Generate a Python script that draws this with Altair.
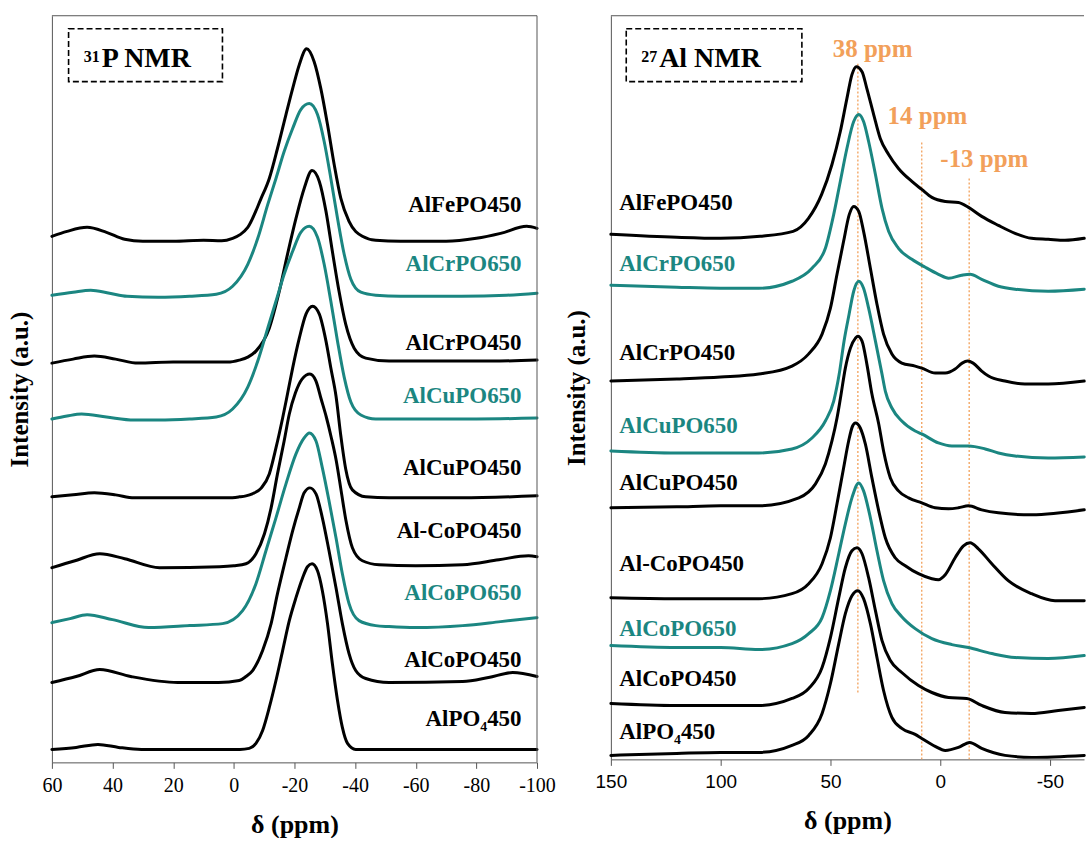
import altair as alt
import pandas as pd

# ---------------- 31P NMR (left panel) : chemical shift (ppm) / intensity (a.u.) ----------------
P_NAMES = ["AlFePO450", "AlCrPO650", "AlCrPO450", "AlCuPO650", "AlCuPO450",
           "Al-CoPO450", "AlCoPO650", "AlCoPO450", "AlPO4450"]
P_LABELS = ["AlFePO450", "AlCrPO650", "AlCrPO450", "AlCuPO650", "AlCuPO450",
            "Al-CoPO450", "AlCoPO650", "AlCoPO450", "AlPO\u2084450"]
P_LABEL_INT = [558, 499, 420, 367, 295, 232, 170, 103, 43]

P_FE450_PPM = [60, 55, 48.4, 42, 36, 30, 20, 10, 4, 0.4, -2.2, -4.6, -9.0, -11.7, -14.4, -17.2, -19.4, -21.6, -24.0,
               -26.5, -28.7, -30.9, -33.1, -35.3, -38.0, -42.4, -46.8, -55, -70, -80, -88, -96.6, -100]
P_FE450_INT = [527, 532, 536, 531, 524, 522, 522, 523, 522.5, 525, 529, 536, 565, 585, 615, 649, 675, 699, 715,
               702, 675, 639, 599, 565, 542, 527, 523, 522, 522, 525, 530, 537, 535]

P_CR650_PPM = [60, 53, 47.2, 41, 35.2, 25, 14.6, 5.8, 0.4, -4.6, -7.9, -11.2, -13.9, -16.6, -19.4, -22.1, -24.9,
               -27.6, -29.8, -32.0, -34.2, -36.4, -38.6, -41.9, -46.8, -55, -75, -90, -100]
P_CR650_INT = [468, 471, 473, 470, 467, 466, 467, 469, 477, 499, 525, 559, 585, 612, 635, 654, 660,
               649, 622, 585, 545, 509, 484, 471, 468, 467, 467, 468, 470]

P_CR450_PPM = [60, 53, 46.0, 39, 31.6, 20, 10, 2, -1.8, -4.6, -7.3, -11.7, -15.0, -17.7, -20.5, -23.2, -25.8,
               -28.2, -30.4, -32.5, -34.7, -36.9, -39.7, -43.5, -51.2, -70, -85, -100]
P_CR450_INT = [400, 404, 407, 404, 400, 401, 401, 401, 403, 406, 412, 435, 472, 509, 545, 575, 593,
               582, 552, 512, 472, 439, 415, 405, 402, 402, 402, 403]

P_CU650_PPM = [60, 55, 50.2, 42, 32.9, 25, 14.6, 5.8, 0.4, -4.6, -7.9, -11.2, -13.9, -16.6, -19.4, -22.1, -24.9,
               -27.6, -29.8, -32.0, -34.2, -36.4, -38.6, -41.9, -46.8, -60, -80, -100]
P_CU650_INT = [344, 347, 349, 346, 343, 343, 344, 346, 354, 376, 402, 435, 462, 489, 512, 531, 537,
               526, 499, 462, 422, 386, 361, 348, 344, 344, 344, 345]

P_CU450_PPM = [60, 53, 46.0, 39, 32.9, 14.6, 2, -1.8, -4, -6.1, -9.1, -11.7, -13.9, -16.1, -17.7, -19.4, -21.6,
               -23.8, -26.0, -28.2, -30.4, -32.0, -33.7, -35.3, -36.9, -39.1, -43.5, -51.2, -75, -100]
P_CU450_INT = [266, 268, 270, 268, 265, 265, 265, 266, 267, 269, 275, 289, 315, 345, 369, 395, 425,
               449, 457, 449, 422, 395, 367, 327, 294, 273, 266, 265, 265, 267]

P_ALCO450_PPM = [60, 52.4, 44.2, 36.0, 24.5, 4.7, 0, -4.0, -7.3, -10.1, -12.3, -14.4, -16.6, -18.3, -20.3, -22.5,
                 -25.1, -27.1, -28.8, -30.5, -32.1, -33.8, -35.4, -37.0, -39.1, -42.4, -47.9, -60, -75.5, -87.4,
                 -97.2, -100]
P_ALCO450_INT = [195, 202, 209, 204, 195, 196, 197, 199, 209, 229, 255, 289, 322, 349, 370, 384,
                 389, 382, 364, 346, 326, 302, 272, 242, 215, 202, 198, 197, 198, 203,
                 207, 206]

P_CO650_PPM = [60, 54, 48.4, 40, 28.1, 14.6, 3.7, -2.9, -7.3, -10.6, -13.9, -17.2, -20.5, -23.2, -24.9,
               -27.1, -29.2, -31.4, -33.7, -35.8, -38.0, -41.3, -46.8, -51.2, -60, -75.5, -88, -100]
P_CO650_INT = [140, 144, 148, 143, 135, 137, 139, 152, 179, 212, 245, 279, 309, 325, 330,
               322, 295, 262, 225, 189, 159, 142, 137, 136, 135, 137, 141, 145]

P_CO450_PPM = [60, 52, 44.2, 34, 18.5, 5, -1.8, -4, -6.2, -9.5, -12.3, -14.4, -17.2, -19.4, -21.6, -23.2, -25.1,
               -27.1, -29.2, -31.4, -33.7, -35.8, -38.0, -40.2, -43.5, -51.2, -75.5, -84, -92.0, -100]
P_CO450_INT = [80, 86, 93, 86, 80, 80, 82, 86, 92, 112, 139, 169, 205, 232, 255, 270, 275,
               269, 245, 212, 175, 139, 109, 92, 84, 80, 81, 85, 90, 86]

P_ALPO_PPM = [60, 52, 44.8, 38, 30.5, 15, -2, -5.1, -7.3, -9.5, -11.7, -13.9, -16.1, -18.3, -20.5, -22.7, -24.3,
              -25.8, -27.6, -29.2, -30.9, -32.5, -34.2, -35.8, -37.5, -40.2, -60, -80, -100]
P_ALPO_INT = [13, 15, 18, 15, 13, 13, 13, 14, 19, 32, 55, 82, 112, 142, 165, 185, 196,
              199, 192, 172, 139, 99, 62, 35, 19, 13, 13, 13, 13]

P_TICKS = [60, 40, 20, 0, -20, -40, -60, -80, -100]

# ---------------- 27Al NMR (right panel) ----------------
A_NAMES = P_NAMES
A_LABELS = P_LABELS
A_LABEL_INT = [560, 499, 410, 337, 280, 199, 134, 84, 30]

A_FE450_PPM = [150, 120, 100, 82, 67, 60, 54, 49.3, 45.5, 42.5, 40.2, 38.2, 35.6, 33.4, 30.3, 27.3, 23.5, 19,
               12.9, 8.4, 3.8, -2.3, -8.3, -12.9, -18.9, -26.5, -34.1, -41.6, -49.2, -56.8, -65.6]
A_FE450_INT = [529, 526, 525, 527, 532, 545, 569, 599, 632, 665, 689, 697, 692, 675, 649, 625, 609, 595,
               582, 574, 566, 562, 561, 556, 547, 538, 530, 525, 524, 523, 525]

A_CR650_PPM = [150, 120, 100, 82.6, 67.5, 58.4, 52.3, 48.5, 45.5, 42.5, 39.4, 37.1, 34.9, 32.6, 29.5, 26.5, 23.5,
               19, 12.9, 6.8, 0.8, -3.8, -9.8, -13.6, -18.9, -26.5, -34.1, -49.2, -65.6]
A_CR650_INT = [478, 476, 475, 475, 482, 495, 515, 549, 582, 615, 642, 649, 642, 622, 589, 555, 532,
               515, 504, 496, 489, 485, 488, 489, 484, 477, 474, 472, 474]

A_CR450_PPM = [150, 120, 100, 82.6, 67.5, 60, 53.8, 50, 47, 44, 41.4, 39.4, 37.1, 34.9, 31.8, 28.8, 25.8, 22,
               17.5, 11.4, 8.4, 2.3, -2.3, -6.8, -10, -12.5, -15, -18.9, -22, -29.5, -38.6, -49.2, -65.6]
A_CR450_INT = [382, 384, 386, 389, 397, 409, 429, 455, 489, 522, 549, 557, 552, 532, 495, 459, 429, 409,
               400, 397, 395, 390, 390, 394, 400, 402, 400, 392, 387, 382, 379, 379, 382]

A_CU650_PPM = [150, 120, 100, 82.6, 67.5, 58.4, 52.3, 48.5, 46, 43.8, 41.5, 39.4, 37.1, 34.9, 32.6, 29.5, 26.5,
               25, 22, 17.5, 11.4, 8.4, 0.8, -5.3, -12.9, -20.5, -26.5, -34.1, -49.2, -65.6]
A_CU650_INT = [312, 310, 310, 310, 314, 325, 342, 362, 389, 422, 449, 472, 482, 475, 455, 422, 389,
               372, 355, 342, 332, 329, 320, 317, 317, 314, 310, 307, 305, 306]

A_CU450_PPM = [150, 120, 100, 82.6, 64.4, 56.8, 52.3, 49.3, 47, 45.5, 43.2, 40.9, 38.6, 37.5, 35.6, 33.4, 31.1,
               28, 25.8, 22.7, 19, 14.4, 8.4, 2.3, -3.8, -8.3, -12.9, -18.9, -26.5, -41.6, -65.6]
A_CU450_INT = [255, 256, 257, 257, 265, 279, 299, 322, 345, 364, 395, 415, 425, 427, 422, 399, 369,
               339, 312, 285, 272, 265, 260, 255, 254, 255, 257, 253, 250, 248, 253]

A_ALCO450_PPM = [150, 120, 100, 82.6, 67.5, 59.9, 53.8, 50, 47, 44, 41.7, 39.9, 38.6, 36.4, 34.1, 31.1, 28, 25,
                 20.5, 15.9, 9.9, 3.8, 0.8, -2.3, -6.8, -10.6, -13.6, -17.4, -23.5, -31, -41.6, -52.3, -65.6]
A_ALCO450_INT = [165, 164, 164, 164, 169, 179, 199, 225, 259, 295, 322, 337, 340, 335, 319, 285, 252, 225,
                 205, 197, 189, 184, 183, 188, 205, 217, 220, 214, 199, 182, 169, 162, 162]

A_CO650_PPM = [150, 120, 100, 82.6, 67.5, 59.9, 53.8, 50, 46.2, 43.2, 40.2, 37.1, 34.9, 31.8, 28.8, 25.8, 22,
               17.5, 11.4, 3.8, -5.3, -12.9, -23.5, -34.1, -49.2, -65.6]
A_CO650_INT = [117, 115, 115, 113, 119, 129, 145, 172, 209, 239, 265, 280, 272, 245, 212, 182, 159,
               146, 134, 124, 118, 115, 109, 105, 104, 107]

A_CO450_PPM = [150, 120, 100, 82.6, 67.5, 59.9, 53.8, 50, 46.2, 43.2, 40.2, 37.9, 35.6, 32.6, 29.5, 26.5, 22.7,
               17.5, 9.9, 3.8, -3.8, -12.1, -18.9, -29.5, -41.6, -53.8, -65.6]
A_CO450_INT = [59, 57, 57, 57, 64, 74, 95, 125, 165, 195, 212, 215, 209, 185, 152, 122, 102,
               90, 77, 70, 65, 64, 57, 50, 49, 52, 55]

A_ALPO_PPM = [150, 120, 100, 82.6, 67.5, 59.9, 53.8, 50, 46.2, 43.2, 40.2, 37.5, 34.9, 31.8, 28.8, 25.8, 22,
              17.5, 11.4, 8.4, 2.3, -2.3, -8.3, -13.4, -18.9, -29.5, -41.6, -65.6]
A_ALPO_INT = [7, 9, 10, 10, 17, 27, 49, 79, 119, 149, 167, 172, 164, 139, 105, 72, 45,
              34, 28, 24, 16, 12, 15, 20, 14, 7, 5, 7]

A_TICKS = [150, 100, 50, 0, -50]

# marked resonances (dotted guides) and their labels
A_MARK_PPM = [37.5, 8.4, -13.2]
A_MARK_TOP = [700, 622, 587]
A_MARK_BOTTOM = [70, 3, 3]
A_MARK_TEXT = ["38 ppm", "14 ppm", "-13 ppm"]
A_MARK_TEXT_PPM = [30.8, 5.8, -20.1]
A_MARK_TEXT_INT = [715, 648, 604]

# ---------------- style ----------------
TEAL = "#1b8681"
BLACK = "#000000"
ORANGE = "#f2a05a"
FRAME = "#555555"
SERIF = "Liberation Serif"
SANS = "Liberation Sans"
LW, LH = 486, 748
RW, RH = 474, 745

P_SERIES = [(P_FE450_PPM, P_FE450_INT), (P_CR650_PPM, P_CR650_INT), (P_CR450_PPM, P_CR450_INT),
            (P_CU650_PPM, P_CU650_INT), (P_CU450_PPM, P_CU450_INT), (P_ALCO450_PPM, P_ALCO450_INT),
            (P_CO650_PPM, P_CO650_INT), (P_CO450_PPM, P_CO450_INT), (P_ALPO_PPM, P_ALPO_INT)]
A_SERIES = [(A_FE450_PPM, A_FE450_INT), (A_CR650_PPM, A_CR650_INT), (A_CR450_PPM, A_CR450_INT),
            (A_CU650_PPM, A_CU650_INT), (A_CU450_PPM, A_CU450_INT), (A_ALCO450_PPM, A_ALCO450_INT),
            (A_CO650_PPM, A_CO650_INT), (A_CO450_PPM, A_CO450_INT), (A_ALPO_PPM, A_ALPO_INT)]
COLORS = [TEAL if "650" in n else BLACK for n in P_NAMES]


def curves_frame(names, series):
    rows = []
    for name, (xs, ys) in zip(names, series):
        assert len(xs) == len(ys), name
        for i, (x, y) in enumerate(zip(xs, ys)):
            rows.append({"sample": name, "idx": i, "ppm": x, "intensity": y})
    return pd.DataFrame(rows)


def panel(names, series, labels, label_ppm, label_int, label_align, x_enc, y_enc, W, H,
          box, title_parts, extra_layers, right_border):
    color = alt.Color("sample:N", scale=alt.Scale(domain=names, range=COLORS), legend=None)
    lines = alt.Chart(curves_frame(names, series)).mark_line(
        strokeWidth=3, interpolate="monotone", strokeJoin="round", strokeCap="round"
    ).encode(x=x_enc, y=y_enc, color=color, detail="sample:N", order=alt.Order("idx:Q"))

    lab_df = pd.DataFrame({"sample": names, "label": labels,
                           "ppm": [label_ppm] * len(names), "intensity": label_int})
    text = alt.Chart(lab_df).mark_text(
        font=SERIF, fontSize=23, fontWeight="bold", align=label_align, baseline="middle"
    ).encode(x=x_enc, y=y_enc, text="label:N", color=color)

    box_df = pd.DataFrame({"ppm": [box[0]], "ppm2": [box[1]], "intensity": [box[2]], "intensity2": [box[3]]})
    rect = alt.Chart(box_df).mark_rect(
        fillOpacity=0, stroke="#000", strokeWidth=1.6, strokeDash=[6, 3]
    ).encode(x=x_enc, x2="ppm2:Q", y=y_enc, y2="intensity2:Q")

    sup_df = pd.DataFrame({"t": [title_parts[0]], "ppm": [title_parts[1]], "intensity": [title_parts[2]]})
    main_df = pd.DataFrame({"t": [title_parts[3]], "ppm": [title_parts[4]], "intensity": [title_parts[5]]})
    sup = alt.Chart(sup_df).mark_text(font=SERIF, fontSize=16, fontWeight="bold", align="left",
                                      baseline="alphabetic", color="#000").encode(x=x_enc, y=y_enc, text="t:N")
    main = alt.Chart(main_df).mark_text(font=SERIF, fontSize=28, fontWeight="bold", align="left",
                                        baseline="alphabetic", color="#000").encode(x=x_enc, y=y_enc, text="t:N")

    one = pd.DataFrame({"k": [0]})
    top_rule = alt.Chart(one).mark_rule(color=FRAME, strokeWidth=1).encode(
        x=alt.value(0), x2=alt.value(W), y=alt.value(0))
    layers = extra_layers + [lines, text, rect, sup, main, top_rule]
    if right_border:
        layers.append(alt.Chart(one).mark_rule(color=FRAME, strokeWidth=1).encode(
            x=alt.value(W), y=alt.value(0), y2=alt.value(H)))
    return alt.layer(*layers).properties(width=W, height=H)


def x_encoding(domain, ticks, label_font, label_size):
    return alt.X("ppm:Q", scale=alt.Scale(domain=domain, nice=False, zero=False),
                 axis=alt.Axis(values=ticks, title="\u03b4 (ppm)", grid=False,
                               labelExpr="'' + datum.value", labelFont=label_font,
                               labelFontSize=label_size, labelColor="#000", labelPadding=7,
                               labelOverlap=False, labelFlush=False,
                               tickSize=6, tickColor=FRAME, tickWidth=1,
                               domainColor=FRAME, domainWidth=1,
                               titleFont=SERIF, titleFontSize=26, titleFontWeight="bold",
                               titleColor="#000", titlePadding=16))


def y_encoding(domain, title_pad):
    return alt.Y("intensity:Q", scale=alt.Scale(domain=domain, nice=False, zero=False),
                 axis=alt.Axis(title="Intensity (a.u.)", labels=False, ticks=False, grid=False,
                               domain=True, domainColor=FRAME, domainWidth=1,
                               titleFont=SERIF, titleFontSize=25, titleFontWeight="bold",
                               titleColor="#000", titlePadding=title_pad))


xP = x_encoding([60, -100], P_TICKS, SERIF, 20)
yP = y_encoding([0, 748], 19)
left = panel(P_NAMES, P_SERIES, P_LABELS, -94.9, P_LABEL_INT, "right", xP, yP, LW, LH,
             (54.5, 3.75, 735, 682), ("31", 49.5, 702, "P NMR", 43.6, 697), [], True)

xA = x_encoding([150, -65.5], A_TICKS, SANS, 19)
yA = y_encoding([3, 748], 21)
mark_df = pd.DataFrame({"ppm": A_MARK_PPM, "intensity": A_MARK_BOTTOM, "intensity2": A_MARK_TOP})
guides = alt.Chart(mark_df).mark_rule(color=ORANGE, strokeWidth=1.3, strokeDash=[2, 2]).encode(
    x=xA, y=yA, y2="intensity2:Q")
mark_txt_df = pd.DataFrame({"t": A_MARK_TEXT, "ppm": A_MARK_TEXT_PPM, "intensity": A_MARK_TEXT_INT})
guide_text = alt.Chart(mark_txt_df).mark_text(font=SERIF, fontSize=25, fontWeight="bold", color=ORANGE,
                                              align="center", baseline="middle").encode(x=xA, y=yA, text="t:N")
right = panel(A_NAMES, A_SERIES, A_LABELS, 146.2, A_LABEL_INT, "left", xA, yA, RW, RH,
              (143.0, 63.0, 735, 682), ("27", 136.2, 702, "Al NMR", 128.0, 697),
              [guides, guide_text], False)

chart = alt.hconcat(left, right, spacing=9).properties(
    padding={"left": 8, "top": 14, "right": 0, "bottom": 0},
    background="white",
).configure_view(strokeWidth=0)

chart.save("out.html", embed_options={"renderer": "svg", "actions": False})
